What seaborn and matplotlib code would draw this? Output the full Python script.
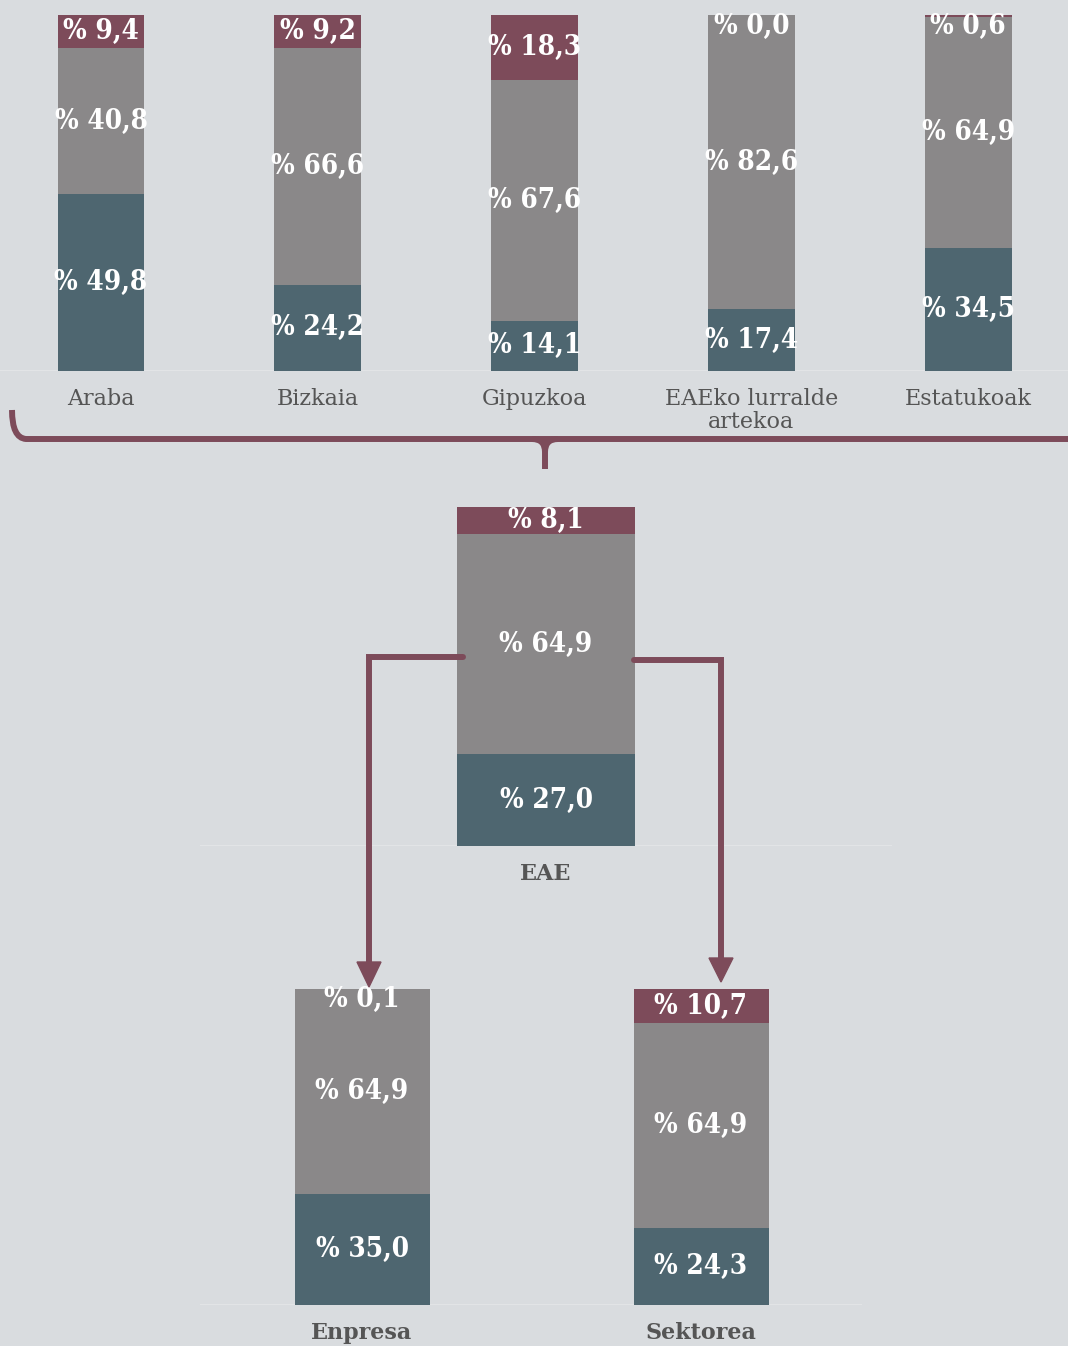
import matplotlib.pyplot as plt
import pandas as pd
import seaborn as sns
from matplotlib.path import Path
from matplotlib.patches import PathPatch, Polygon

# Datuak
lurraldeak = ['Araba', 'Bizkaia', 'Gipuzkoa', 'EAEko lurralde\nartekoa', 'Estatukoak']
lur_urdina = [49.8, 24.2, 14.1, 17.4, 34.5]
lur_grisa = [40.8, 66.6, 67.6, 82.6, 64.9]
lur_gorria = [9.4, 9.2, 18.3, 0.0, 0.6]

eae = ['EAE']
eae_urdina = [27.0]
eae_grisa = [64.9]
eae_gorria = [8.1]

motak = ['Enpresa', 'Sektorea']
mota_urdina = [35.0, 24.3]
mota_grisa = [64.9, 64.9]
mota_gorria = [0.1, 10.7]

BG = '#d9dcdf'
RED = '#7d4b5a'
GREY = '#8a8889'
BLUE = '#4e6670'
TXT = '#555555'
W, H = 1068, 1346

sns.set_theme(style='white')
plt.rcParams['font.family'] = ['DejaVu Serif']

fig = plt.figure(figsize=(W / 100, H / 100), dpi=100, facecolor=BG)


def px_axes(x0, x1, y0, y1):
    # axes from pixel box (y from top)
    return fig.add_axes([x0 / W, 1 - y1 / H, (x1 - x0) / W, (y1 - y0) / H])


def pct(v):
    return ('% ' + f'{v:.1f}').replace('.', ',')


def stacked(ax, cats, blue, grey, red, width, bold_labels, pad):
    df = pd.DataFrame({'cat': cats, 'urdina': blue, 'grisa': grey, 'gorria': red})
    df['bg'] = df['urdina'] + df['grisa']
    df['guztira'] = df['bg'] + df['gorria']
    for col, c in [('guztira', RED), ('bg', GREY), ('urdina', BLUE)]:
        sns.barplot(data=df, x='cat', y=col, color=c, width=width, saturation=1,
                    errorbar=None, ax=ax, zorder=2, linewidth=0)
    for i, row in df.iterrows():
        ys = [row['urdina'] / 2,
              row['urdina'] + row['grisa'] / 2,
              row['guztira'] - max(row['gorria'], 6.5) / 2]
        vals = [row['urdina'], row['grisa'], row['gorria']]
        for y, v in zip(ys, vals):
            ax.text(i, y, pct(v), ha='center', va='center', color='white',
                    fontsize=20, fontweight='bold', fontstretch='condensed', zorder=5)
        ax.annotate(row['cat'], (i, 0), xycoords=('data', 'axes fraction'),
                    xytext=(0, -pad), textcoords='offset points', ha='center', va='top',
                    color=TXT, fontsize=16, linespacing=1.1,
                    fontweight='bold' if bold_labels else 'normal')
    ax.axhline(0, color='#e2e4e6', lw=1.5, zorder=1)
    ax.set_ylim(0, 100)
    ax.set(xticks=[], yticks=[], xlabel='', ylabel='')
    ax.set_facecolor('none')
    sns.despine(ax=ax, left=True, bottom=True)


# goiko lurraldeak
ax1 = px_axes(0, W, 15, 371)
stacked(ax1, lurraldeak, lur_urdina, lur_grisa, lur_gorria, 0.40, False, 12)
ax1.set_xlim(-101 / 216.8, (W - 101) / 216.8)

# EAE
ax2 = px_axes(200, 892, 507, 846)
stacked(ax2, eae, eae_urdina, eae_grisa, eae_gorria, 178 / 692, True, 12)
ax2.set_xlim((200 - 546) / 692, (892 - 546) / 692)

# Enpresa / Sektorea
ax3 = px_axes(200, 862, 989, 1305)
stacked(ax3, motak, mota_urdina, mota_grisa, mota_gorria, 135 / 339, True, 12)
ax3.set_xlim((200 - 362) / 339, (862 - 362) / 339)

# giltza eta geziak
ov = fig.add_axes([0, 0, 1, 1], zorder=10)
ov.set_xlim(0, W)
ov.set_ylim(H, 0)
ov.axis('off')
ov.patch.set_alpha(0)

lw = 4.3
verts = [(12, 410), (12, 438), (26, 439), (W + 5, 439)]
codes = [Path.MOVETO, Path.CURVE3, Path.CURVE3, Path.LINETO]
ov.add_patch(PathPatch(Path(verts, codes), fill=False, ec=RED, lw=lw, capstyle='butt'))
notch = [(532, 439), (545, 439), (545, 452), (545, 469)]
ov.add_patch(PathPatch(Path(notch, [Path.MOVETO, Path.CURVE3, Path.CURVE3, Path.LINETO]),
                       fill=False, ec=RED, lw=lw))
notch2 = [(558, 439), (545, 439), (545, 452)]
ov.add_patch(PathPatch(Path(notch2, [Path.MOVETO, Path.CURVE3, Path.CURVE3]),
                       fill=False, ec=RED, lw=lw))

ov.plot([463, 369, 369], [657, 657, 966], color=RED, lw=lw, solid_joinstyle='miter')
ov.add_patch(Polygon([(357, 962), (381, 962), (369, 987)], closed=True, color=RED))
ov.plot([634, 721, 721], [660, 660, 961], color=RED, lw=lw, solid_joinstyle='miter')
ov.add_patch(Polygon([(709, 958), (733, 958), (721, 982)], closed=True, color=RED))

fig.savefig('out.png', dpi=100, facecolor=BG)
